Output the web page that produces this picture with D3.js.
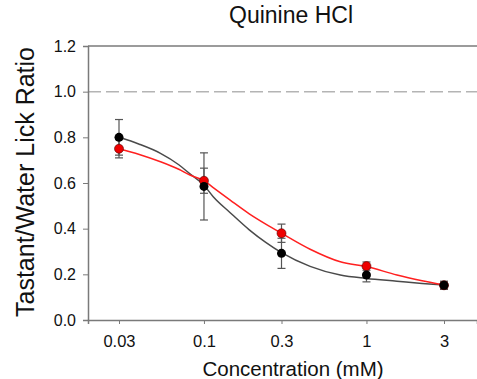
<!DOCTYPE html>
<html><head><meta charset="utf-8">
<script src="https://cdn.jsdelivr.net/npm/d3@7"></script>
<style>
html,body{margin:0;padding:0;background:#fff;}
svg{display:block;font-family:"Liberation Sans",Arial,sans-serif;}
</style></head>
<body>
<svg id="chart" width="477" height="379"></svg>
<script>
// ---- data ----
const concentrations = [0.03, 0.1, 0.3, 1, 3];
const tickLabels = ["0.03", "0.1", "0.3", "1", "3"];
const yTicks = [0, 0.2, 0.4, 0.6, 0.8, 1.0, 1.2];
const blackMeans = [0.80, 0.585, 0.292, 0.197, 0.152];
const blackErr   = [0.078, 0.147, 0.066, 0.030, 0.018];
const redMeans   = [0.750, 0.610, 0.380, 0.236, 0.152];
const redErr     = [0.040, 0.055, 0.040, 0.018, 0.015];
// fitted curves
const fitConc  = [0.03, 0.04, 0.054, 0.07, 0.082, 0.1, 0.114, 0.145, 0.19, 0.24, 0.3, 0.45, 0.69, 1, 1.54, 2.2, 3];
const blackFit = [0.800, 0.770, 0.730, 0.680, 0.640, 0.590, 0.540, 0.470, 0.395, 0.340, 0.295, 0.235, 0.197, 0.182, 0.170, 0.160, 0.153];
const redFit   = [0.750, 0.725, 0.693, 0.660, 0.635, 0.610, 0.580, 0.525, 0.465, 0.420, 0.380, 0.310, 0.255, 0.234, 0.197, 0.172, 0.153];
const refLine = 1.0;

(function () {
const svg = d3.select("#chart");
const pLeft = 88, pRight = 477, pTop = 46, pBottom = 320;

const x0 = d3.scaleLog().domain([0.03, 3]).range([119, 444]);
const x = d3.scaleLog().domain([x0.invert(pLeft), x0.invert(pRight)]).range([pLeft, pRight]);
const y = d3.scaleLinear().domain([0, 1.2]).range([pBottom, pTop]);

const axisColor = "#7a7a7a";
const font = "Liberation Sans, Arial, sans-serif";

// reference dashed line
svg.append("line")
  .attr("x1", pLeft).attr("x2", pRight)
  .attr("y1", y(refLine)).attr("y2", y(refLine))
  .attr("stroke", "#b4b4b4").attr("stroke-width", 1.5)
  .attr("stroke-dasharray", "13,5");

// top border line
svg.append("line")
  .attr("x1", pLeft).attr("x2", pRight)
  .attr("y1", pTop).attr("y2", pTop)
  .attr("stroke", axisColor).attr("stroke-width", 1.5);

// y axis
const yAxis = d3.axisLeft(y).tickValues(yTicks).tickFormat(d3.format(".1f")).tickSize(5).tickPadding(7);
const gy = svg.append("g").attr("transform", `translate(${pLeft},0)`).call(yAxis);
gy.select(".domain").attr("stroke", axisColor).attr("stroke-width", 1.5);
gy.selectAll(".tick line").attr("stroke", axisColor);
gy.selectAll(".tick text").attr("fill", "#111").style("font-size", "16px").style("font-family", font);

// x axis
const xAxis = d3.axisBottom(x).tickValues(concentrations).tickFormat((d, i) => tickLabels[i]).tickSize(4).tickPadding(11);
const gx = svg.append("g").attr("transform", `translate(0,${pBottom})`).call(xAxis);
gx.select(".domain").attr("stroke", axisColor).attr("stroke-width", 1.5);
gx.selectAll(".tick line").attr("stroke", axisColor);
gx.selectAll(".tick text").attr("fill", "#111").style("font-size", "16.5px").style("font-family", font);

// curves
const line = d3.line().x(d => x(d[0])).y(d => y(d[1])).curve(d3.curveMonotoneX);
svg.append("path").datum(fitConc.map((c, i) => [c, blackFit[i]]))
  .attr("d", line).attr("fill", "none").attr("stroke", "#4a4a4a").attr("stroke-width", 1.5);
svg.append("path").datum(fitConc.map((c, i) => [c, redFit[i]]))
  .attr("d", line).attr("fill", "none").attr("stroke", "#ff2020").attr("stroke-width", 1.5);

// error bars
function errorBars(means, errs) {
  const g = svg.append("g").attr("stroke", "#555").attr("stroke-width", 1.2);
  concentrations.forEach((c, i) => {
    const cx = x(c), y1 = y(means[i] + errs[i]), y2 = y(means[i] - errs[i]);
    g.append("line").attr("x1", cx).attr("x2", cx).attr("y1", y1).attr("y2", y2);
    g.append("line").attr("x1", cx - 4).attr("x2", cx + 4).attr("y1", y1).attr("y2", y1);
    g.append("line").attr("x1", cx - 4).attr("x2", cx + 4).attr("y1", y2).attr("y2", y2);
  });
}
errorBars(redMeans, redErr);
errorBars(blackMeans, blackErr);

// points
svg.append("g").selectAll("circle").data(redMeans).join("circle")
  .attr("cx", (d, i) => x(concentrations[i])).attr("cy", d => y(d)).attr("r", 4.5)
  .attr("fill", "#ee0000").attr("stroke", "#500").attr("stroke-width", 0.6);
svg.append("g").selectAll("circle").data(blackMeans).join("circle")
  .attr("cx", (d, i) => x(concentrations[i])).attr("cy", d => y(d)).attr("r", 4.5)
  .attr("fill", "#000");

// titles
svg.append("text").attr("x", 291).attr("y", 23).attr("text-anchor", "middle")
  .style("font-size", "23px").attr("fill", "#111").text("Quinine HCl");
svg.append("text").attr("x", 293).attr("y", 376).attr("text-anchor", "middle")
  .style("font-size", "20.5px").attr("fill", "#111").text("Concentration (mM)");
svg.append("text").attr("transform", `translate(34,182) rotate(-90)`).attr("text-anchor", "middle")
  .style("font-size", "25px").attr("fill", "#111").text("Tastant/Water Lick Ratio");
})();
</script>
</body></html>
